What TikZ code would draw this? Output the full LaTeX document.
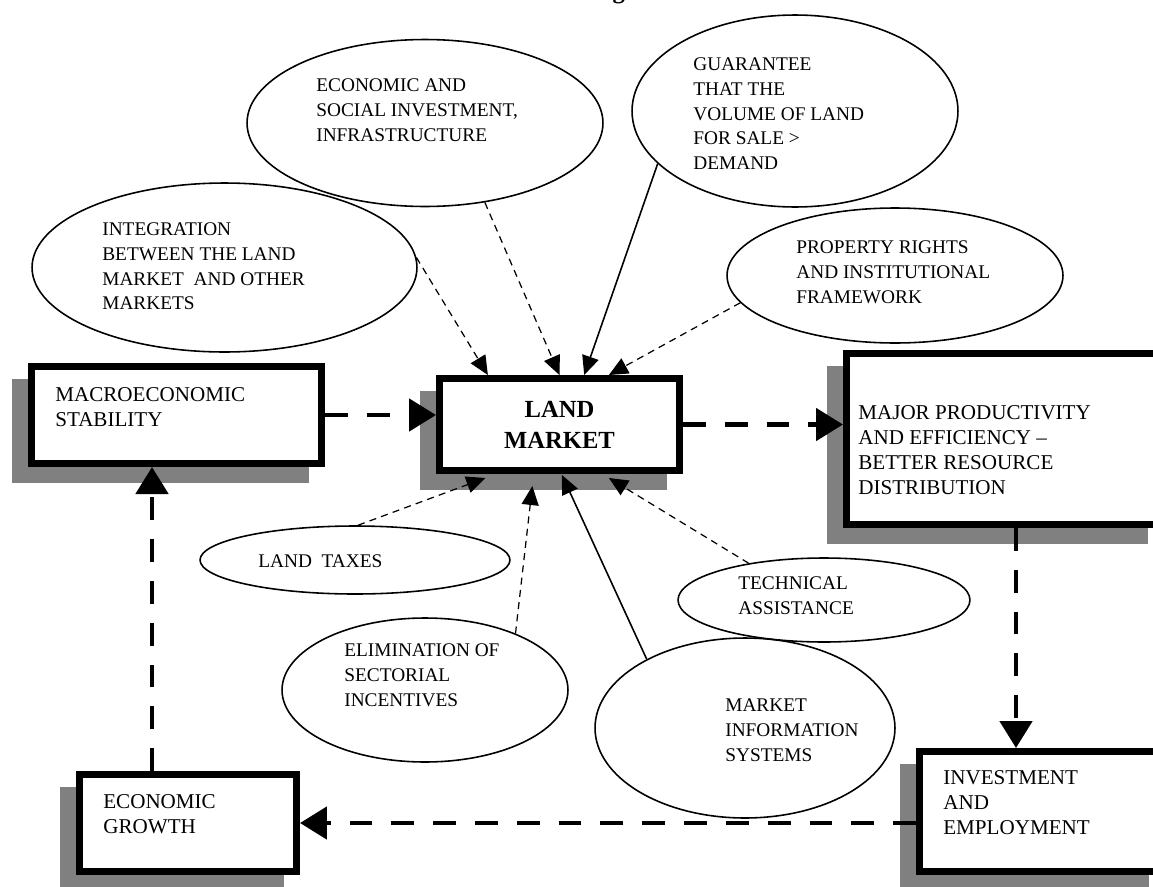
\documentclass[tikz,border=0pt]{standalone}
\usepackage{fontspec}
\setmainfont{Liberation Serif}
\usetikzlibrary{calc}
\usetikzlibrary{shapes, backgrounds}
\usetikzlibrary{arrows.meta}
\usetikzlibrary{positioning}
\tikzset{
    bubble/.style={
           ellipse,
           draw=black, line width=0.9pt,
           inner sep=0pt,
           },
    bubtext/.style={anchor=north west, align=left, inner sep=0pt,
           font=\fontsize{11}{14.2}\selectfont},
    block/.style={
           rectangle,
           draw=black, line width=4pt,
           fill=white,
           inner sep=0pt,
           },
    blocktext/.style={anchor=north west, align=left, inner sep=0pt,
           font=\fontsize{12}{14.2}\selectfont},
    flow/.style={line width=2.8pt, dash pattern=on 13pt off 10.8pt,
           -{Triangle[length=0.54cm,width=0.64cm]}},
    weak/.style={line width=0.7pt, dash pattern=on 4pt off 3pt,
           -{Triangle[length=0.38cm,width=0.34cm]}},
    strong/.style={line width=0.9pt, -{Triangle[length=0.38cm,width=0.34cm]}},
}
\begin{document}
\begin{tikzpicture}[x=0.02cm, y=-0.02cm]
      \useasboundingbox (0,0) rectangle (1153,886);
      \clip (0,0) rectangle (1153,886);
      \node[font=\bfseries\fontsize{14}{16}\selectfont, anchor=base] (title) at (533,-2) {The land market diagram};

      % influences
      \node[bubble, minimum width=7.12cm, minimum height=3.34cm] (esoc) at (425,123) {};
      \node[bubble, minimum width=6.52cm, minimum height=3.84cm] (guar) at (795,111) {};
      \node[bubble, minimum width=7.7cm, minimum height=3.38cm] (integ) at (224.5,267.5) {};
      \node[bubble, minimum width=6.72cm, minimum height=2.7cm] (prop) at (895,275.5) {};
      \node[bubble, minimum width=6.2cm, minimum height=1.36cm] (taxes) at (355,560) {};
      \node[bubble, minimum width=5.84cm, minimum height=1.68cm] (tech) at (824,600) {};
      \node[bubble, minimum width=5.72cm, minimum height=2.88cm] (elim) at (425,690) {};
      \node[bubble, minimum width=6cm, minimum height=3.6cm] (info) at (745,728) {};

      \node[bubtext] (esoc-t) at (316,78) {ECONOMIC AND\\SOCIAL INVESTMENT,\\INFRASTRUCTURE};
      \node[bubtext] (guar-t) at (693,57) {GUARANTEE\\THAT THE\\VOLUME OF LAND\\FOR SALE >\\DEMAND};
      \node[bubtext] (integ-t) at (102,222) {INTEGRATION\\BETWEEN THE LAND\\MARKET\ \ AND OTHER\\MARKETS};
      \node[bubtext] (prop-t) at (796,240) {PROPERTY RIGHTS\\AND INSTITUTIONAL\\FRAMEWORK};
      \node[bubtext] (taxes-t) at (258,554) {LAND\ \ TAXES};
      \node[bubtext] (tech-t) at (738,576) {TECHNICAL\\ASSISTANCE};
      \node[bubtext] (elim-t) at (344,643) {ELIMINATION OF\\SECTORIAL\\INCENTIVES};
      \node[bubtext] (info-t) at (725,698) {MARKET\\INFORMATION\\SYSTEMS};

      % main chain
      \node[block, minimum width=5.8cm, minimum height=1.94cm] (macro) at (176.5,415) {};
      \node[block, minimum width=4.8cm, minimum height=1.84cm, align=center,
            font=\bfseries\fontsize{14}{17.6}\selectfont] (land) at (559.5,424.5) {LAND\\MARKET};
      \node[block, minimum width=6.28cm, minimum height=3.42cm] (major) at (1003.5,439) {};
      \node[block, minimum width=4.84cm, minimum height=2.4cm] (invest) at (1040.5,811.5) {};
      \node[block, minimum width=4.34cm, minimum height=1.94cm] (growth) at (188,823) {};

      \begin{scope}[on background layer]
      \foreach \b in {macro,land,major,invest,growth}
        \fill[gray] ([shift={(-16,16)}]\b.north west) rectangle ([shift={(-16,16)}]\b.south east);
      \end{scope}

      \node[blocktext] (macro-t) at (55,387) {MACROECONOMIC\\STABILITY};
      \node[blocktext] (major-t) at (858,405) {MAJOR PRODUCTIVITY\\AND EFFICIENCY –\\BETTER RESOURCE\\DISTRIBUTION};
      \node[blocktext] (invest-t) at (943,770) {INVESTMENT\\AND\\EMPLOYMENT};
      \node[blocktext] (growth-t) at (103,794) {ECONOMIC\\GROWTH};

      \coordinate (gm) at (152,0);
      \coordinate (mi) at (1016,0);
      \draw[flow] (macro.east) -- (macro.east -| land.west);
      \draw[flow] (land.east) -- (land.east -| major.west);
      \draw[flow] (mi |- major.south) -- (mi |- invest.north);
      \draw[flow] (invest.west |- growth.east) -- (growth.east);
      \draw[flow] (gm |- growth.north) -- (gm |- macro.south);

      \draw[weak] (integ.3) -- ($(land.north west)!0.21!(land.north east)$);
      \draw[weak] (esoc.-53) -- ($(land.north west)!0.50!(land.north east)$);
      \draw[strong] (guar.201) -- ($(land.north west)!0.60!(land.north east)$);
      \draw[weak] (prop.190) -- ($(land.north west)!0.70!(land.north east)$);
      \draw[weak] (taxes.85) -- ($(land.south west)!0.20!(land.south east)+(0,4)$);
      \draw[weak] (elim.32) -- ($(land.south west)!0.39!(land.south east)+(0,12)$);
      \draw[strong] (info.145) -- ($(land.south west)!0.51!(land.south east)+(0,1)$);
      \draw[weak] (tech.154) -- ($(land.south west)!0.70!(land.south east)+(0,4)$);
\end{tikzpicture}
\end{document}
